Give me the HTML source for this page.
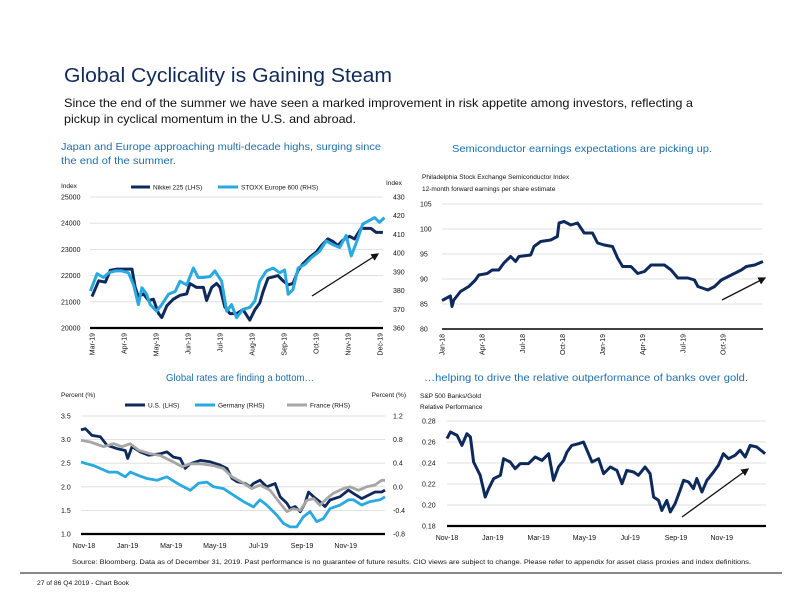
<!DOCTYPE html>
<html><head><meta charset="utf-8">
<style>
html,body{margin:0;padding:0;background:#fff;}
svg{display:block;font-family:"Liberation Sans",sans-serif;}
</style></head>
<body>
<svg id="page" width="792" height="612" viewBox="0 0 792 612" xmlns="http://www.w3.org/2000/svg">
<defs><marker id="ah" markerWidth="6" markerHeight="6" refX="5" refY="3" orient="auto"><path d="M0,0 L6,3 L0,6 z" fill="#111"/></marker></defs>
<text x="64" y="82" font-size="20" fill="#0f2a5a" textLength="328" lengthAdjust="spacingAndGlyphs">Global Cyclicality is Gaining Steam</text>
<text x="64" y="107" font-size="12" fill="#111" textLength="629" lengthAdjust="spacingAndGlyphs">Since the end of the summer we have seen a marked improvement in risk appetite among investors, reflecting a</text>
<text x="64" y="123" font-size="12" fill="#111" textLength="292" lengthAdjust="spacingAndGlyphs">pickup in cyclical momentum in the U.S. and abroad.</text>
<text x="61" y="150" font-size="10.5" fill="#1f6fae" textLength="320" lengthAdjust="spacingAndGlyphs">Japan and Europe approaching multi-decade highs, surging since</text>
<text x="61" y="164" font-size="10.5" fill="#1f6fae" textLength="115" lengthAdjust="spacingAndGlyphs">the end of the summer.</text>
<text x="452" y="152" font-size="10.5" fill="#1f6fae" textLength="260" lengthAdjust="spacingAndGlyphs">Semiconductor earnings expectations are picking up.</text>
<text x="166" y="381" font-size="10.5" fill="#1f6fae" textLength="148" lengthAdjust="spacingAndGlyphs">Global rates are finding a bottom…</text>
<text x="424" y="381" font-size="10.5" fill="#1f6fae" textLength="324" lengthAdjust="spacingAndGlyphs">…helping to drive the relative outperformance of banks over gold.</text>
<text x="72" y="564" font-size="6.5" fill="#111" textLength="679" lengthAdjust="spacingAndGlyphs">Source: Bloomberg. Data as of December 31, 2019. Past performance is no guarantee of future results. CIO views are subject to change. Please refer to appendix for asset class proxies and index definitions.</text>
<line x1="20" y1="573" x2="782" y2="573" stroke="#111" stroke-width="1"/>
<text x="37" y="585" font-size="6" fill="#111" textLength="92" lengthAdjust="spacingAndGlyphs">27 of 86 Q4 2019 - Chart Book</text>
<g id="g1"></g><g id="g2"></g><g id="g3"></g><g id="g4"></g>
</svg>
<script>
const c1MonthLabels = ["Mar-19","Apr-19","May-19","Jun-19","Jul-19","Aug-19","Sep-19","Oct-19","Nov-19","Dec-19"];
const c1LeftTicks = [20000,21000,22000,23000,24000,25000];
const c1RightTicks = [360,370,380,390,400,410,420,430];
const nikkeiT = [0,.21,.42,.57,.78,.93,1.25,1.35,1.45,1.61,1.77,1.92,2.08,2.18,2.34,2.54,2.75,2.96,3.06,3.27,3.48,3.58,3.74,3.89,4.0,4.15,4.31,4.52,4.72,4.93,5.09,5.24,5.35,5.50,5.66,5.81,5.97,6.13,6.28,6.44,6.59,6.80,7.01,7.17,7.37,7.53,7.68,7.84,8.05,8.20,8.41,8.57,8.72,8.88,9.09];
const nikkeiV = [21200,21800,21750,22200,22250,22250,22250,21550,21200,21300,21050,21100,20550,20400,20850,21100,21250,21300,21700,21550,21550,21050,21550,21700,21550,20800,20550,20550,20700,20300,20700,20950,21400,21900,21950,22000,21800,21650,21700,22200,22450,22700,22900,23150,23400,23300,23150,23350,23500,23400,23800,23800,23800,23650,23650];
const stoxxT = [-.05,.16,.36,.52,.73,.93,1.14,1.30,1.45,1.56,1.71,1.82,2.02,2.18,2.39,2.60,2.75,2.96,3.17,3.32,3.48,3.69,3.84,4.05,4.21,4.36,4.52,4.72,4.93,5.09,5.24,5.45,5.66,5.87,6.02,6.13,6.28,6.44,6.65,6.85,7.11,7.32,7.53,7.74,7.94,8.10,8.26,8.46,8.67,8.83,8.98,9.14];
const stoxxV = [379.7,389,387,389.5,390.5,390.5,389.5,383,372.5,381.5,378,372.5,369,372.5,378,379.5,385,383,392,387,387,387.5,390.5,385,369,372.5,365.5,370,371,374.5,385,390.5,392,389.5,391,378,380.5,392,394,397.5,401,406.5,404.5,403,409.5,398.5,405.5,415.5,417.5,419,416.5,419];
const c2TickT = [0,3,6,9,12,15,18,21];
const c2MonthLabels = ["Jan-18","Apr-18","Jul-18","Oct-18","Jan-19","Apr-19","Jul-19","Oct-19"];
const c2Ticks = [80,85,90,95,100,105];
const soxT = [0,.63,.75,.88,1.38,2.0,2.5,2.75,3.38,3.75,4.25,4.63,5.13,5.5,5.75,6.63,6.88,7.38,8.13,8.63,8.75,9.13,9.63,10.13,10.63,11.25,11.63,12.13,12.75,13.13,13.5,14.13,14.63,15.13,15.63,16.63,17.13,17.63,18.38,18.88,19.13,19.88,20.38,20.88,21.63,22.38,22.75,23.38,24.0];
const soxV = [85.7,86.6,84.5,85.8,87.5,88.5,89.8,90.8,91.1,91.8,91.8,93.2,94.5,93.5,94.5,94.8,96.5,97.5,97.8,98.5,101.2,101.5,100.8,101.2,99.2,99.2,97.2,96.8,96.5,94.2,92.5,92.5,91.1,91.5,92.8,92.8,91.8,90.2,90.2,89.8,88.5,87.8,88.5,89.8,90.8,91.8,92.5,92.8,93.5];
const c3TickT = [0,2,4,6,8,10,12];
const c3MonthLabels = ["Nov-18","Jan-19","Mar-19","May-19","Jul-19","Sep-19","Nov-19"];
const c3LeftTicks = [1.0,1.5,2.0,2.5,3.0,3.5];
const c3LeftLabels = ["1.0","1.5","2.0","2.5","3.0","3.5"];
const c3RightTicks = [-0.8,-0.4,0.0,0.4,0.8,1.2];
const c3RightLabels = ["-0.8","-0.4","0.0","0.4","0.8","1.2"];
const usT = [0,.20,.50,.89,1.19,1.65,2.03,2.14,2.34,2.72,3.10,3.63,3.94,4.24,4.55,4.78,5.01,5.47,5.92,6.38,6.69,6.92,7.15,7.53,7.76,7.91,8.21,8.52,8.90,9.13,9.44,9.59,9.82,10.05,10.27,10.43,10.66,10.96,11.19,11.42,11.88,12.26,12.49,12.87,13.18,13.48,13.79,13.94];
const usV = [3.21,3.23,3.09,3.06,2.88,2.81,2.77,2.60,2.85,2.74,2.67,2.70,2.74,2.63,2.60,2.39,2.49,2.56,2.53,2.46,2.39,2.18,2.11,2.07,2.00,2.07,2.14,2.00,2.07,1.79,1.65,1.54,1.58,1.47,1.65,1.89,1.79,1.68,1.58,1.72,1.79,1.93,1.86,1.75,1.82,1.89,1.89,1.93];
const deT = [0,.27,.58,.89,1.27,1.65,2.03,2.26,2.64,3.02,3.48,3.94,4.32,4.70,5.01,5.39,5.77,6.08,6.53,6.99,7.45,7.91,8.21,8.52,8.98,9.28,9.59,9.89,10.20,10.50,10.81,11.11,11.42,11.88,12.26,12.49,12.87,13.25,13.71,13.94];
const deV = [0.42,0.39,0.36,0.31,0.25,0.25,0.17,0.25,0.19,0.14,0.11,0.17,0.08,0.00,-0.06,0.06,0.08,0.00,-0.03,-0.14,-0.25,-0.34,-0.22,-0.31,-0.48,-0.62,-0.68,-0.68,-0.51,-0.42,-0.59,-0.54,-0.37,-0.31,-0.22,-0.22,-0.31,-0.25,-0.22,-0.17];
const frT = [0,.43,1.04,1.50,1.88,2.26,2.64,3.18,3.63,4.24,4.63,5.01,5.47,6.08,6.53,6.92,7.37,7.83,8.21,8.67,9.13,9.44,9.74,10.05,10.35,10.66,10.96,11.27,11.57,12.03,12.34,12.72,13.10,13.48,13.79,13.94];
const frV = [0.79,0.76,0.68,0.73,0.68,0.73,0.62,0.56,0.53,0.42,0.34,0.39,0.39,0.36,0.31,0.17,0.08,-0.03,0.03,-0.06,-0.28,-0.42,-0.37,-0.40,-0.23,-0.20,-0.31,-0.20,-0.11,-0.03,0.00,-0.06,0.00,0.03,0.11,0.11];
const c4TickT = [0,2,4,6,8,10,12];
const c4MonthLabels = ["Nov-18","Jan-19","Mar-19","May-19","Jul-19","Sep-19","Nov-19"];
const c4Ticks = [0.18,0.20,0.22,0.24,0.26,0.28];
const c4Labels = ["0.18","0.20","0.22","0.24","0.26","0.28"];
const bgT = [0,.15,.44,.65,.87,1.02,1.16,1.45,1.67,1.82,2.04,2.33,2.47,2.76,2.98,3.20,3.56,3.85,4.15,4.44,4.65,4.87,5.09,5.24,5.45,5.75,5.96,6.18,6.33,6.62,6.84,7.13,7.42,7.64,7.85,8.15,8.36,8.65,8.87,9.02,9.24,9.38,9.60,9.75,9.96,10.18,10.33,10.55,10.76,10.91,11.13,11.35,11.64,11.85,12.07,12.29,12.58,12.80,13.02,13.24,13.53,13.89];
const bgV = [0.2632,0.2695,0.2663,0.2568,0.2679,0.2648,0.2410,0.2283,0.2076,0.2156,0.2251,0.2283,0.2441,0.2410,0.2346,0.2394,0.2394,0.2457,0.2425,0.2489,0.2235,0.2362,0.2425,0.2505,0.2568,0.2584,0.2600,0.2489,0.2410,0.2441,0.2298,0.2362,0.2330,0.2203,0.2330,0.2314,0.2283,0.2362,0.2298,0.2076,0.2044,0.1949,0.2044,0.1933,0.2013,0.2140,0.2235,0.2219,0.2156,0.2251,0.2124,0.2235,0.2314,0.2378,0.2489,0.2441,0.2473,0.2521,0.2457,0.2568,0.2552,0.2489];

const NS = "http://www.w3.org/2000/svg";
const NAVY = "#0e2a5c", LBLUE = "#2aa8e0", GRAY = "#a6a6a6";
function lin(d0,d1,r0,r1){return v=>r0+(v-d0)/(d1-d0)*(r1-r0);}
function mk(parent,tag,attrs,txt){const e=document.createElementNS(NS,tag);for(const k in attrs)e.setAttribute(k,attrs[k]);if(txt!==undefined)e.textContent=txt;parent.appendChild(e);return e;}
function poly(parent,ts,vs,xs,ys,color,w){
  let d="";for(let i=0;i<ts.length;i++){d+=(i?"L":"M")+xs(ts[i]).toFixed(1)+","+ys(vs[i]).toFixed(1);}
  return mk(parent,"path",{d:d,fill:"none",stroke:color,"stroke-width":w,"stroke-linejoin":"round"});
}
function txt(parent,x,y,s,size,anchor,extra){const a=Object.assign({x:x,y:y,"font-size":size,fill:"#111","text-anchor":anchor||"start"},extra||{});return mk(parent,"text",a,s);}

(function(){
  const g=document.getElementById("g1");
  const x=lin(0,9,92,380), yL=lin(20000,25000,328,197), yR=lin(360,430,328,197);
  c1LeftTicks.forEach((v,i)=>{
    if(i>0){const gl=mk(g,"line",{x1:90,x2:383,y1:yL(v),y2:yL(v),stroke:"#d9d9d9","stroke-width":0.8});
    
    }
    const t=txt(g,61,yL(v)+2.5,String(v),7);
    
    
  });
  c1RightTicks.forEach(v=>{
    const t=txt(g,393,yR(v)+2.5,String(v),7);
    
    
  });
  const ax=mk(g,"line",{x1:90,x2:383,y1:328,y2:328,stroke:"#000","stroke-width":2.2});
  
  
  c1MonthLabels.forEach((m,i)=>{
    const t=txt(g,0,0,m,7,"end",{transform:"translate("+(x(i)+2.5)+",333) rotate(-90)"});
    
    
  });
  const s1=poly(g,nikkeiT,nikkeiV,x,yL,NAVY,3);
  
  
  const s2=poly(g,stoxxT,stoxxV,x,yR,LBLUE,3);
  
  
  const a=mk(g,"line",{x1:312,y1:296,x2:378,y2:254,stroke:"#111","stroke-width":1.3,"marker-end":"url(#ah)"});
  
  
  const l1=txt(g,61,188,"Index",6.5);
  const l2=txt(g,386,185,"Index",6.5);
  const lg1=mk(g,"line",{x1:131,x2:150,y1:187,y2:187,stroke:NAVY,"stroke-width":3});
  const lt1=txt(g,153,189.5,"Nikkei 225 (LHS)",6.5);
  const lg2=mk(g,"line",{x1:218,x2:238,y1:187,y2:187,stroke:LBLUE,"stroke-width":3});
  const lt2=txt(g,241,189.5,"STOXX Europe 600 (RHS)",6.5);
})();

(function(){
  const g=document.getElementById("g2");
  const x=lin(0,24,442,763), y=lin(80,105,329,204);
  c2Ticks.forEach((v,i)=>{
    if(i>0){const gl=mk(g,"line",{x1:442,x2:763,y1:y(v),y2:y(v),stroke:"#d9d9d9","stroke-width":0.8});
    
    }
    const t=txt(g,420,y(v)+2.5,String(v),7);
    
    
  });
  const ax=mk(g,"line",{x1:442,x2:763,y1:329,y2:329,stroke:"#000","stroke-width":1.5});
  
  
  c2TickT.forEach((tt,i)=>{
    const t=txt(g,0,0,c2MonthLabels[i],7,"end",{transform:"translate("+(x(tt)+2.5)+",334) rotate(-90)"});
    
    
  });
  const s=poly(g,soxT,soxV,x,y,NAVY,3);
  
  
  const a=mk(g,"line",{x1:722,y1:300,x2:765,y2:278,stroke:"#111","stroke-width":1.3,"marker-end":"url(#ah)"});
  
  
  const t1=txt(g,422,179,"Philadelphia Stock Exchange Semiconductor Index",6.5);
  const t2=txt(g,422,191,"12-month forward earnings per share estimate",6.5);
})();

(function(){
  const g=document.getElementById("g3");
  const x=lin(0,13.94,81,385), yL=lin(1.0,3.5,534,416), yR=lin(-0.8,1.2,534,416);
  c3LeftTicks.forEach((v,i)=>{
    if(i>0){const gl=mk(g,"line",{x1:81,x2:385,y1:yL(v),y2:yL(v),stroke:"#d9d9d9","stroke-width":0.8});
    
    }
    const t=txt(g,61,yL(v)+2.5,c3LeftLabels[i],7);
    
    
  });
  c3RightTicks.forEach((v,i)=>{
    const t=txt(g,393,yR(v)+2.5,c3RightLabels[i],7);
    
    
  });
  const ax=mk(g,"line",{x1:81,x2:385,y1:534,y2:534,stroke:"#000","stroke-width":2.2});
  
  
  c3TickT.forEach((tt,i)=>{
    const t=txt(g,x(tt)+3,548,c3MonthLabels[i],7,"middle");
    
    
  });
  const su=poly(g,usT,usV,x,yL,NAVY,2.8);
  
  
  const sf=poly(g,frT,frV,x,yR,GRAY,2.8);
  
  
  const sd=poly(g,deT,deV,x,yR,LBLUE,2.8);
  
  
  const l1=txt(g,61,397,"Percent (%)",6.5);
  const l2=txt(g,406,397,"Percent (%)",6.5,"end");
  const items=[[125,NAVY,"U.S. (LHS)"],[195,LBLUE,"Germany (RHS)"],[287,GRAY,"France (RHS)"]];
  items.forEach(it=>{
    const sw=mk(g,"line",{x1:it[0],x2:it[0]+20,y1:405,y2:405,stroke:it[1],"stroke-width":3});
    
    
    const lt=txt(g,it[0]+23,407.5,it[2],6.5);
    
    
  });
})();

(function(){
  const g=document.getElementById("g4");
  const x=lin(0,13.93,447,766), y=lin(0.18,0.28,526,421);
  c4Ticks.forEach((v,i)=>{
    if(i>0){const gl=mk(g,"line",{x1:447,x2:766,y1:y(v),y2:y(v),stroke:"#d9d9d9","stroke-width":0.8});
    
    }
    const t=txt(g,422,y(v)+2.5,c4Labels[i],7);
    
    
  });
  const ax=mk(g,"line",{x1:447,x2:766,y1:526,y2:526,stroke:"#000","stroke-width":2.2});
  
  
  c4TickT.forEach((tt,i)=>{
    const t=txt(g,x(tt),540,c4MonthLabels[i],7,"middle");
    
    
  });
  const s=poly(g,bgT,bgV,x,y,NAVY,3);
  
  
  const a=mk(g,"line",{x1:682,y1:517,x2:748,y2:469,stroke:"#111","stroke-width":1.3,"marker-end":"url(#ah)"});
  
  
  const t1=txt(g,420,398,"S&P 500 Banks/Gold",6.5);
  const t2=txt(g,420,409,"Relative Performance",6.5);
})();
</script>
</body></html>
